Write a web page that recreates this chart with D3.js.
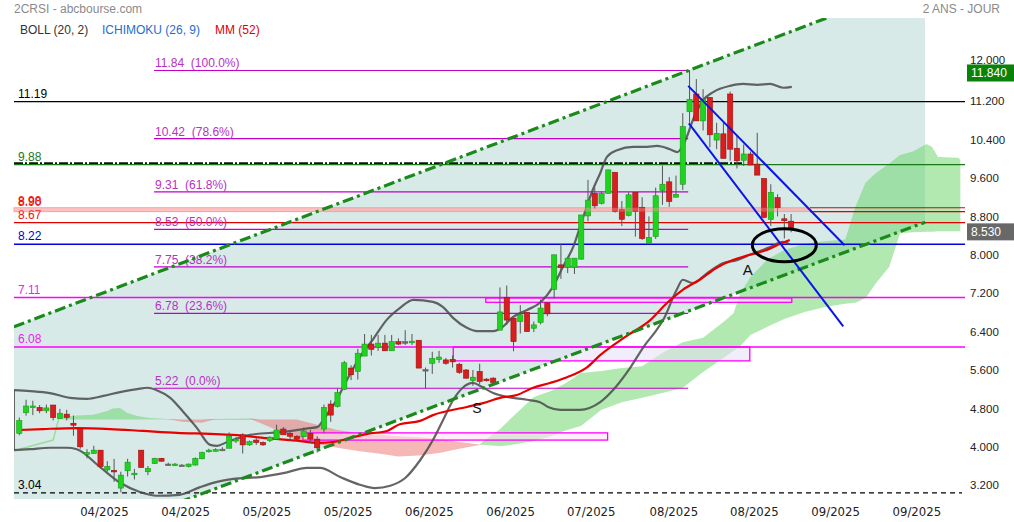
<!DOCTYPE html>
<html><head><meta charset="utf-8">
<script src="https://cdn.jsdelivr.net/npm/d3@7"></script>
<style>
body{margin:0;background:#fff;}
svg{display:block;font-family:"Liberation Sans",Arial,sans-serif;}
</style></head><body>
<svg id="c" width="1014" height="522"></svg>
<script>
// ---------- DATA ----------
const open  = [4.28,4.71,4.82,4.82,4.75,4.87,4.59,4.68,4.49,4.36,3.84,3.86,3.93,3.52,3.51,3.14,3.50,3.42,3.93,3.48,3.65,3.76,3.64,3.62,3.62,3.59,3.62,3.75,3.90,3.92,3.95,3.97,4.12,4.25,4.04,4.14,4.09,4.13,4.16,4.37,4.28,4.22,4.21,4.28,4.16,4.37,4.89,4.84,5.20,5.64,5.57,5.89,6.14,6.07,6.16,6.00,6.19,6.19,6.17,6.22,5.61,5.74,5.82,5.81,5.82,5.72,5.60,5.38,5.57,5.41,5.43,6.43,7.11,6.68,6.61,6.80,6.47,6.59,7.00,7.28,7.79,7.74,7.74,7.91,8.81,9.28,9.07,9.28,9.72,8.95,8.82,9.30,8.99,8.24,8.38,9.34,9.52,9.20,9.47,10.98,11.35,10.79,11.28,10.39,10.52,11.35,10.22,9.97,10.10,9.89,9.59,8.74,9.19,8.75,8.70];
const high  = [4.61,4.98,4.96,4.87,4.88,4.87,4.79,4.77,4.65,4.36,3.95,4.02,3.93,3.70,3.75,3.48,3.75,3.54,3.93,3.60,3.77,3.77,3.67,3.66,3.64,3.65,3.78,3.90,3.96,3.97,3.99,4.30,4.20,4.28,4.13,4.20,4.11,4.22,4.46,4.41,4.32,4.24,4.40,4.35,4.22,4.88,4.97,5.21,5.79,5.70,6.04,6.35,6.33,6.33,6.33,6.33,6.26,6.43,6.35,6.22,5.65,5.98,6.00,5.85,5.90,5.75,5.62,5.60,5.73,5.43,5.45,7.32,7.36,6.68,6.95,6.80,6.61,7.07,7.00,8.00,8.22,7.93,7.93,8.83,9.56,9.40,9.32,9.77,9.72,9.12,9.30,9.30,9.20,8.80,9.40,9.86,9.62,9.65,10.95,11.85,11.66,11.45,11.28,10.75,10.75,11.40,10.50,10.30,10.15,10.54,9.59,9.47,9.26,8.85,8.85];
const low   = [4.24,4.65,4.66,4.70,4.70,4.55,4.58,4.55,4.23,3.96,3.76,3.85,3.55,3.48,3.27,3.05,3.38,3.32,3.57,3.41,3.64,3.69,3.61,3.60,3.60,3.57,3.61,3.74,3.88,3.90,3.91,3.97,4.08,3.86,4.02,4.04,4.02,4.10,4.16,4.25,4.12,4.14,4.21,4.08,3.88,4.29,4.52,4.82,5.18,5.39,5.40,5.89,5.90,6.00,6.00,6.00,6.12,6.12,6.12,5.64,5.22,5.52,5.75,5.71,5.65,5.52,5.42,5.27,5.30,5.36,5.30,6.43,6.54,5.99,6.36,6.40,6.39,6.55,6.72,7.09,7.50,7.62,7.60,7.90,8.70,8.96,9.05,9.28,8.88,8.60,8.80,8.38,8.31,8.24,8.33,9.04,9.00,9.20,9.35,10.75,10.79,10.59,10.24,10.20,10.01,9.96,9.80,9.85,9.87,9.66,8.76,8.60,8.80,8.34,8.47];
const close = [4.55,4.85,4.85,4.75,4.81,4.61,4.70,4.61,4.45,4.00,3.88,3.93,3.59,3.59,3.48,3.41,3.68,3.45,3.57,3.55,3.76,3.70,3.64,3.64,3.62,3.64,3.76,3.88,3.93,3.94,3.95,4.22,4.16,4.04,4.11,4.09,4.04,4.20,4.35,4.25,4.22,4.16,4.33,4.16,3.98,4.82,4.66,5.13,5.75,5.50,5.95,6.14,6.03,6.16,6.00,6.19,6.14,6.19,6.20,5.64,5.61,5.84,5.87,5.74,5.77,5.55,5.43,5.45,5.36,5.38,5.34,6.81,6.64,6.19,6.75,6.40,6.54,6.89,6.77,8.00,7.74,7.93,7.93,8.83,9.14,9.02,9.28,9.77,8.90,8.74,9.25,8.90,8.34,8.36,9.23,9.47,9.11,9.26,10.67,11.24,10.79,11.24,10.50,10.53,10.01,10.20,9.96,10.10,9.87,9.66,8.78,9.30,8.98,8.71,8.53];

// Bollinger (20,2)
const bollUpIdx = [-0.8,1.6,4.5,7.5,10,12.4,14.9,17.4,18.9,20.3,22.3,24.2,26.2,28.2,29.2,30.7,34.1,39,42.9,44,44.9,45.9,46.9,47.8,48.8,50.3,52.2,54.3,56.2,58.2,61.1,62.6,64.1,66.1,67.6,70,71.4,72.9,75,76.9,78.8,80.3,81.8,83.3,84.7,85.8,86.8,88.3,90.7,92.7,94.2,96.1,97.2,97.9,98.6,99.5,101,102.5,105,106.9,109,110.9,112.8,114.1];
const bollUp    = [5.18,5.16,5.12,5.02,5.00,5.06,5.14,5.20,5.23,5.18,5.02,4.73,4.40,4.04,4.02,4.10,4.25,4.31,4.39,4.41,4.56,4.77,4.98,5.23,5.50,5.87,6.23,6.65,6.89,7.06,7.02,6.91,6.68,6.48,6.41,6.41,6.50,6.70,6.85,7.00,7.33,7.75,8.16,8.79,9.35,9.70,10.04,10.18,10.25,10.25,10.27,10.20,10.14,10.25,10.46,10.81,11.22,11.39,11.52,11.56,11.54,11.56,11.48,11.50];
const bollLoIdx = [-0.8,1.6,4.5,7,8.5,11.9,14.9,17.8,20.3,23.7,26.7,29.2,31.6,35.6,39,42.5,44.4,47.4,50.3,52.5,54.8,57,59.2,61.1,62.6,64.1,65.5,67,68.3,70,72,75,76.9,78.1,79.9,82.8,85.8,88,90.2,92.4,93.9,95.1,97.1,98,99.5,101.6,104,106,107.9,109.4,110.9,112.8,113.8];
const bollLo    = [3.93,3.95,3.98,3.98,3.95,3.58,3.25,3.06,2.98,3.00,3.16,3.27,3.33,3.37,3.45,3.56,3.56,3.37,3.21,3.14,3.19,3.35,3.72,4.14,4.56,4.98,5.23,5.33,5.25,5.12,5.04,4.98,4.93,4.83,4.77,4.77,4.93,5.23,5.64,6.12,6.39,6.64,7.27,7.48,7.41,7.62,7.83,7.89,8.00,8.08,8.16,8.27,8.22];

// MM (52)
const maIdx = [0,3.5,8.5,13.4,18.3,23.3,28.2,31.6,36.6,41.5,44,46.3,48.8,51.4,54.3,56.2,59.2,61.1,66.1,68.5,71,73.5,75.9,78.4,80.9,83.9,85.8,89.5,93.2,95.7,98,100.5,103,105.4,107.9,110.4,112.4,113.8];
const maVal = [4.35,4.37,4.39,4.37,4.33,4.29,4.27,4.25,4.18,4.12,4.08,4.10,4.18,4.27,4.33,4.47,4.54,4.66,4.83,4.91,5.02,5.08,5.23,5.33,5.45,5.66,5.91,6.29,6.64,7.00,7.27,7.48,7.73,7.89,8.00,8.10,8.23,8.31];

// Ichimoku (26,9) cloud, shifted forward
const cloudIdx = [6,8.5,10.9,12.9,13.8,14.9,15.9,17.4,19.3,21.8,24,27,29,34,35.5,38,41,44,47,50,53,56,59,62,65,68,71,73.5,76,78.5,80.5,83,86,89,92,95,98,101,104,105.5,106.5,108,110.5,113,116,119,122,123.5,125,126.5,128.5,130.1,132,134,134.8,135.7,138.7,139];
const spanA    = [4.62,4.65,4.67,4.74,4.80,4.81,4.71,4.64,4.60,4.58,4.52,4.50,4.58,4.59,4.50,4.35,4.12,4.06,3.98,3.91,3.86,3.80,3.82,3.87,3.96,4.04,4.37,4.71,5.04,5.16,5.31,5.54,5.58,5.64,5.68,5.96,6.18,6.27,6.60,6.78,7.20,7.54,7.90,8.10,8.23,8.28,8.32,9.00,9.50,9.70,9.90,10.08,10.15,10.31,10.25,10.04,10.02,9.98];
const spanB    = [4.57,4.57,4.57,4.57,4.57,4.57,4.57,4.57,4.57,4.57,4.57,4.57,4.56,4.56,4.57,4.57,4.57,4.46,4.35,4.29,4.25,4.22,4.20,4.16,4.10,4.05,4.01,4.06,4.12,4.22,4.33,4.44,4.77,4.93,5.02,5.12,5.23,5.56,5.85,6.00,6.10,6.33,6.50,6.66,6.81,6.91,6.98,7.00,7.10,7.40,7.75,8.45,8.47,8.48,8.48,8.49,8.49,8.49];
const spanEarlyIdx = [0,5,5.9];
const spanEarlyVal = [3.95,4.14,4.62];

// horizontal levels
const hLevels = [11.19, 9.88, 8.98, 8.90, 8.67, 8.22, 7.11, 6.08, 3.04];
const hLabels = ["11.19","9.88","8.98","8.90","8.67","8.22","7.11","6.08","3.04"];
const dashDotLevel = 9.91;

// Fibonacci retracement
const fibLevels = [11.84,10.42,9.31,8.53,7.75,6.78,5.22];
const fibPct    = ["100.0%","78.6%","61.8%","50.0%","38.2%","23.6%","0.0%"];
const fibRange  = [19.9, 98.8];

// zones
const zoneStart = [68.9, 64.1, 41.9];
const zoneEnd   = [114.1, 107.9, 86.9];
const zoneTop   = [7.10, 6.08, 4.29];
const zoneBot   = [7.01, 5.79, 4.14];

// trend channels [idx, price]
const upChanA = [-0.8, 6.50],  upChanB = [119.2, 12.93];
const loChanA = [23.7, 2.85],  loChanB = [133.8, 8.68];
const blueUpA = [98.8, 11.52], blueUpB = [121.9, 8.20];
const blueLoA = [98.9, 10.74], blueLoB = [121.7, 6.51];
const circleC = [113, 8.20];
const noteText = ["A","S"];
const noteIdx  = [107.6, 67.6];
const noteVal  = [7.68, 4.81];

// axes
const yTicks = [3.2,4.0,4.8,5.6,6.4,7.2,8.0,8.8,9.6,10.4,11.2,12.0];
const xTickIdx = [12.5,24.5,36.5,48.5,60.5,72.5,84.4,96.6,108.5,120.5,132.5];
const xTickLabels = ["04/2025","04/2025","05/2025","05/2025","06/2025","06/2025","07/2025","08/2025","08/2025","09/2025","09/2025"];
const lastPrice = 8.53, topPrice = 11.84;

// ---------- DRAW ----------
const svg = d3.select("#c");
const x = d3.scaleLinear().domain([0,114]).range([19.3, 791.1]);
const y = d3.scaleLinear().domain([3.2,12]).range([485.2,62.8]);
const L = 14, R = 965, T = 18, B = 499, TEALR = 925;

const defs = svg.append("defs");
defs.append("clipPath").attr("id","teal").append("rect").attr("x",L).attr("y",T).attr("width",TEALR-L).attr("height",B-T);
defs.append("clipPath").attr("id","plot").append("rect").attr("x",L).attr("y",T).attr("width",R-L).attr("height",B-T);

function at(p1,p2,i){ return p1[1] + (p2[1]-p1[1])*(i-p1[0])/(p2[0]-p1[0]); }

// teal channel fill
const poly = [[-5,at(upChanA,upChanB,-5)],[145,at(upChanA,upChanB,145)],[145,at(loChanA,loChanB,145)],[-5,at(loChanA,loChanB,-5)]];
svg.append("path").attr("clip-path","url(#teal)")
  .attr("d", d3.line().x(d=>x(d[0])).y(d=>y(d[1]))(poly)+"Z")
  .attr("fill","#d7eae8");

// cloud
const cloud = cloudIdx.map((d,i)=>({i:d,a:spanA[i],b:spanB[i]}));
const gCloud = svg.append("g").attr("clip-path","url(#plot)");
gCloud.append("path").attr("d", d3.area().x(d=>x(d.i)).y0(d=>y(d.b)).y1(d=>y(Math.max(d.a,d.b)))(cloud))
  .attr("fill","rgb(100,212,100)").attr("fill-opacity",0.5);
gCloud.append("path").attr("d", d3.area().x(d=>x(d.i)).y0(d=>y(d.a)).y1(d=>y(Math.max(d.a,d.b)))(cloud))
  .attr("fill","rgb(236,96,96)").attr("fill-opacity",0.45);
gCloud.append("path").attr("d", d3.line().x((d,i)=>x(d)).y((d,i)=>y(spanEarlyVal[i]))(spanEarlyIdx))
  .attr("fill","none").attr("stroke","#9cdc9c").attr("stroke-width",1.5);

// zones
zoneStart.forEach((s,k)=>{
  svg.append("rect").attr("x",x(s)).attr("y",y(zoneTop[k])).attr("width",x(zoneEnd[k])-x(s))
    .attr("height",y(zoneBot[k])-y(zoneTop[k]))
    .attr("fill",["rgba(245,228,245,0.7)","rgba(232,222,245,0.55)","rgba(255,225,245,0.6)"][k])
    .attr("stroke","#ff00ff").attr("stroke-width",1.3);
});

// horizontal lines
const hl = (v,x1,x2,col,w,dash)=>svg.append("line").attr("x1",x1).attr("x2",x2).attr("y1",y(v)).attr("y2",y(v))
   .attr("stroke",col).attr("stroke-width",w).attr("stroke-dasharray",dash||null);
hl(hLevels[0],L,R,"#000",1.2);
hl(hLevels[1],L,R,"#1a7a1a",1.3);
hl(dashDotLevel,L,742,"#111",1.6,"9,2,2,2");
svg.append("rect").attr("x",L).attr("y",y(hLevels[2])).attr("width",810-L).attr("height",y(hLevels[3])-y(hLevels[2]))
  .attr("fill","rgba(255,150,150,0.45)").attr("stroke","#f4a0a0").attr("stroke-width",1);
hl(hLevels[2],810,R,"#e00000",1.2);
hl(hLevels[3],810,R,"#e00000",1.2);
hl(hLevels[4],L,R,"#e00000",1.3);
hl(hLevels[5],L,R,"#0000dd",1.5);
hl(hLevels[6],L,R,"#ff00ff",1.4);
hl(hLevels[7],L,R,"#ff00ff",1.4);
hl(hLevels[8],L,962,"#000",1.1,"5,4");

// fib lines
fibLevels.forEach((v,k)=>{
  svg.append("line").attr("x1",x(fibRange[0])).attr("x2",x(fibRange[1])).attr("y1",y(v)).attr("y2",y(v))
    .attr("stroke","#c000c8").attr("stroke-width",1.2);
  svg.append("text").attr("x",x(fibRange[0])+1).attr("y",y(v)-3).attr("fill","#b830c4")
    .style("font-size","12px").style("white-space","pre").text(v.toFixed(2)+"  ("+fibPct[k]+")");
});

// level labels
const labCol = ["#000","#1a7a1a","#ee1111","#ee1111","#ee1111","#0000dd","#ee22ee","#ee22ee","#000"];
hLevels.forEach((v,k)=>{
  let yy = y(v)-4;
  if(k===2) yy = y(v)-3;
  if(k===3) yy = y(hLevels[2])-1.5;
  svg.append("text").attr("x",18).attr("y",yy).attr("fill",labCol[k]).style("font-size","12px").text(hLabels[k]);
});

// bollinger
const gB = svg.append("g").attr("clip-path","url(#plot)");
const bl = d3.line().x(d=>x(d[0])).y(d=>y(d[1])).curve(d3.curveMonotoneX);
gB.append("path").attr("d", bl(bollUpIdx.map((d,i)=>[d,bollUp[i]]))).attr("fill","none").attr("stroke","#4a4a4a").attr("stroke-width",2.2).attr("stroke-opacity",0.85);
gB.append("path").attr("d", bl(bollLoIdx.map((d,i)=>[d,bollLo[i]]))).attr("fill","none").attr("stroke","#4a4a4a").attr("stroke-width",2.2).attr("stroke-opacity",0.85);
gB.append("line").attr("x1",x(bollUpIdx[0])).attr("x2",x(bollUpIdx[0])).attr("y1",y(bollUp[0])).attr("y2",y(bollLo[0]))
  .attr("stroke","#4a4a4a").attr("stroke-width",2.2).attr("stroke-opacity",0.85);

// MA
svg.append("path").attr("d", bl(maIdx.map((d,i)=>[d,maVal[i]]))).attr("fill","none").attr("stroke","#e80000").attr("stroke-width",2.2);

// candles
const gC = svg.append("g");
open.forEach((o,i)=>{
  const c = close[i];
  const cx = x(i);
  gC.append("line").attr("x1",cx).attr("x2",cx).attr("y1",y(high[i])).attr("y2",y(low[i])).attr("stroke","#555").attr("stroke-width",1);
  const flat = Math.abs(c-o) < 0.015;
  const up = c > o;
  const top = y(Math.max(o,c)), h = Math.max(1.6, Math.abs(y(o)-y(c)));
  gC.append("rect").attr("x",cx-2.6).attr("y",top).attr("width",5.2).attr("height",h)
    .attr("fill", flat ? "#666" : (up ? "#1fd41f" : "#d81e1e"))
    .attr("stroke", flat ? "#666" : (up ? "#1a9a1a" : "#9a1010")).attr("stroke-width",0.6);
});

// pink band overlay on candles (light)
svg.append("rect").attr("x",L).attr("y",y(hLevels[2])).attr("width",810-L).attr("height",y(hLevels[3])-y(hLevels[2]))
  .attr("fill","rgba(255,170,170,0.35)");

// channels
const gL = svg.append("g").attr("clip-path","url(#plot)");
const seg = (a,b,col,w,dash)=>gL.append("line").attr("x1",x(a[0])).attr("y1",y(a[1])).attr("x2",x(b[0])).attr("y2",y(b[1]))
  .attr("stroke",col).attr("stroke-width",w).attr("stroke-dasharray",dash||null);
seg(upChanA,upChanB,"#1b8a1b",3.2,"11,4,3,4");
seg(loChanA,loChanB,"#1b8a1b",3.2,"11,4,3,4");
seg(blueUpA,blueUpB,"#0a14e6",2);
seg(blueLoA,blueLoB,"#0a14e6",2);

// ellipse
svg.append("ellipse").attr("cx",x(circleC[0])).attr("cy",y(circleC[1])).attr("rx",32).attr("ry",16.5)
  .attr("fill","none").attr("stroke","#000").attr("stroke-width",3);

noteText.forEach((t,k)=>{
  svg.append("text").attr("x",x(noteIdx[k])).attr("y",y(noteVal[k])+5).attr("text-anchor","middle")
    .attr("fill","#111").style("font-size",k===0?"15px":"14px").text(t);
});

// axes
const ya = svg.append("g").attr("transform","translate(966,0)")
  .call(d3.axisRight(y).tickValues(yTicks).tickFormat(d3.format(".3f")).tickSize(0).tickPadding(4));
ya.select(".domain").remove();
ya.selectAll("text").attr("fill","#222").style("font-size","11.5px").style("font-family","'Liberation Sans',Arial,sans-serif");
ya.selectAll(".tick").filter(d=>d===12).select("text").attr("dy","0.1em");

const xa = svg.append("g").attr("transform","translate(0,500)")
  .call(d3.axisBottom(x).tickValues(xTickIdx).tickFormat((d,i)=>xTickLabels[i]).tickSize(0).tickPadding(7));
xa.select(".domain").remove();
xa.selectAll("text").attr("fill","#222").style("font-size","13px").style("font-family","'Liberation Sans Narrow','DejaVu Sans Condensed',sans-serif");

// price tags
function tag(v,col){
  const g = svg.append("g");
  g.append("rect").attr("x",967).attr("y",y(v)-6).attr("width",47).attr("height",17).attr("fill",col);
  g.append("text").attr("x",971).attr("y",y(v)+7).attr("fill","#fff").style("font-size","12px").text(v.toFixed(3));
}
tag(topPrice,"#0a820a");
tag(lastPrice,"#686868");

// header
svg.append("text").attr("x",14).attr("y",13).attr("fill","#8a8a8a").style("font-size","12px").text("2CRSI - abcbourse.com");
svg.append("text").attr("x",1000).attr("y",13).attr("text-anchor","end").attr("fill","#8a8a8a").style("font-size","12px").text("2 ANS - JOUR");
svg.append("text").attr("x",20).attr("y",34).attr("fill","#333").style("font-size","12px").text("BOLL (20, 2)");
svg.append("text").attr("x",102).attr("y",34).attr("fill","#1a6fd0").style("font-size","12px").text("ICHIMOKU (26, 9)");
svg.append("text").attr("x",215).attr("y",34).attr("fill","#e00000").style("font-size","12px").text("MM (52)");
</script>
</body></html>
